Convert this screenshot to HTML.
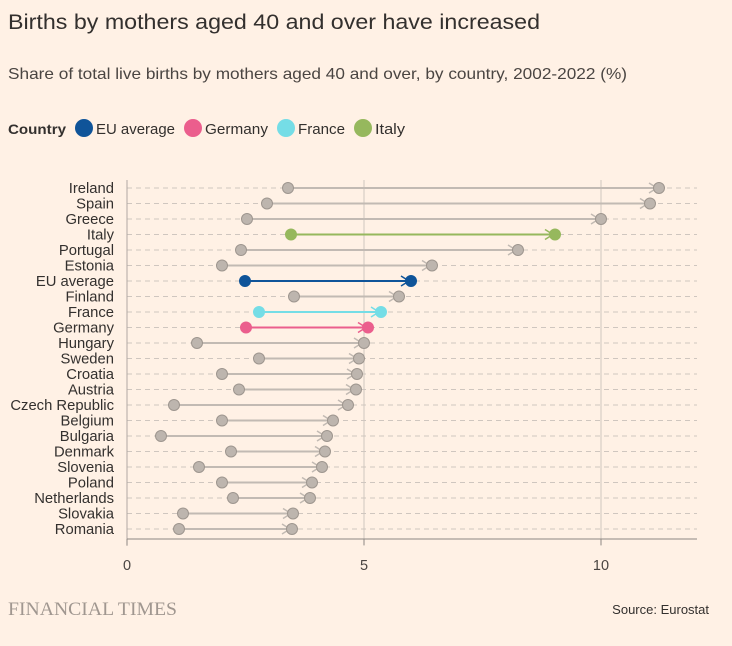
<!DOCTYPE html>
<html><head><meta charset="utf-8"><style>
body{margin:0;background:#fff1e5;}
svg{display:block;font-family:"Liberation Sans",sans-serif;}
</style></head><body>
<svg width="732" height="646" viewBox="0 0 732 646">
<rect width="732" height="646" fill="#fff1e5"/>
<text x="8" y="29" font-size="21" fill="#33302e" textLength="532" lengthAdjust="spacingAndGlyphs">Births by mothers aged 40 and over have increased</text>
<text x="8" y="79" font-size="16" fill="#4a4542" textLength="619" lengthAdjust="spacingAndGlyphs">Share of total live births by mothers aged 40 and over, by country, 2002-2022 (%)</text>
<text x="8" y="134" font-size="14" font-weight="bold" fill="#33302e" textLength="58" lengthAdjust="spacingAndGlyphs">Country</text>
<circle cx="84" cy="128" r="9" fill="#0f5499"/><text x="96" y="134" font-size="14.5" fill="#33302e" textLength="79" lengthAdjust="spacingAndGlyphs">EU average</text>
<circle cx="193" cy="128" r="9" fill="#eb5e8d"/><text x="205" y="134" font-size="14.5" fill="#33302e" textLength="63" lengthAdjust="spacingAndGlyphs">Germany</text>
<circle cx="286" cy="128" r="9" fill="#75dde6"/><text x="298" y="134" font-size="14.5" fill="#33302e" textLength="47" lengthAdjust="spacingAndGlyphs">France</text>
<circle cx="363" cy="128" r="9" fill="#96b85d"/><text x="375" y="134" font-size="14.5" fill="#33302e" textLength="30" lengthAdjust="spacingAndGlyphs">Italy</text>
<g id="grid"></g>
<line x1="127" y1="180" x2="127" y2="546" stroke="#b0a8a2"/>
<line x1="364" y1="180" x2="364" y2="546" stroke="#cfc6bf"/>
<line x1="601" y1="180" x2="601" y2="546" stroke="#cfc6bf"/>
<line x1="127" y1="539" x2="697" y2="539" stroke="#8e8782"/>
<line x1="127" y1="539" x2="127" y2="545" stroke="#8e8782"/>
<line x1="364" y1="539" x2="364" y2="545" stroke="#8e8782"/>
<line x1="601" y1="539" x2="601" y2="545" stroke="#8e8782"/>
<text x="127" y="570" font-size="14.5" fill="#4a4542" text-anchor="middle">0</text>
<text x="364" y="570" font-size="14.5" fill="#4a4542" text-anchor="middle">5</text>
<text x="601" y="570" font-size="14.5" fill="#4a4542" text-anchor="middle">10</text>
<text x="8" y="615" font-size="19" fill="#a09790" font-family="Liberation Serif,serif" textLength="169" lengthAdjust="spacingAndGlyphs">FINANCIAL TIMES</text>
<text x="709" y="614" font-size="13" fill="#33302e" text-anchor="end">Source: Eurostat</text>
<g id="rows"></g>
</svg>
<script>
var d=[["Ireland",288,659],["Spain",267,650],["Greece",247,601],["Italy",291,555,"#96b85d"],["Portugal",241,518],["Estonia",222,432],["EU average",245,411,"#0f5499"],["Finland",294,399],["France",259,381,"#75dde6"],["Germany",246,368,"#eb5e8d"],["Hungary",197,364],["Sweden",259,359],["Croatia",222,357],["Austria",239,356],["Czech Republic",174,348],["Belgium",222,333],["Bulgaria",161,327],["Denmark",231,325],["Slovenia",199,322],["Poland",222,312],["Netherlands",233,310],["Slovakia",183,293],["Romania",179,292]];
var ns="http://www.w3.org/2000/svg",g=document.getElementById("rows"),gr=document.getElementById("grid");
function el(p,t,a,txt){var e=document.createElementNS(ns,t);for(var k in a)e.setAttribute(k,a[k]);if(txt)e.textContent=txt;p.appendChild(e);return e;}
d.forEach(function(r,i){var y=188+i*15.5;var c=r[3]||"#bdb5ae";var s=r[3]?r[3]:"#c2bab3";
el(gr,"line",{x1:127,y1:y,x2:697,y2:y,stroke:"#cfc6bf","stroke-dasharray":"5,4"});
el(g,"text",{x:114,y:y+5,"font-size":14.8,fill:"#33302e","text-anchor":"end"},r[0]);
el(g,"line",{x1:r[1],y1:y,x2:r[2],y2:y,stroke:s,"stroke-width":2});
el(g,"path",{d:"M"+(r[2]-10)+" "+(y-5)+"L"+(r[2]-2)+" "+y+"L"+(r[2]-10)+" "+(y+5),fill:"none",stroke:s,"stroke-width":1.5});
el(g,"circle",{cx:r[1],cy:y,r:5.5,fill:c,stroke:r[3]?c:"#9e968f","stroke-width":1});
el(g,"circle",{cx:r[2],cy:y,r:5.5,fill:c,stroke:r[3]?c:"#9e968f","stroke-width":1});
});
</script>
</body></html>
